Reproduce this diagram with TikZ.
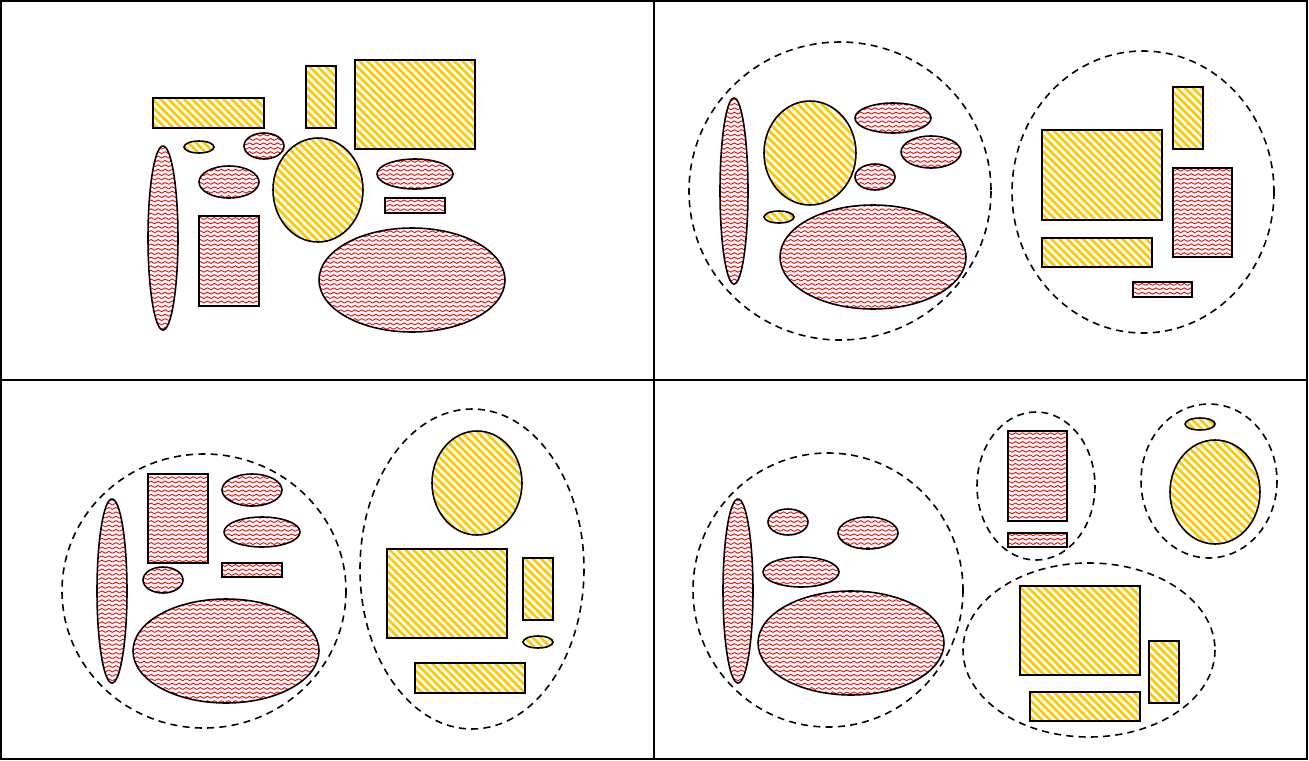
\documentclass[tikz,border=0pt]{standalone}
\usetikzlibrary{patterns}

\definecolor{stripe}{RGB}{255,200,0}

\pgfdeclarepatternformonly{zigzag}{\pgfqpoint{-1pt}{-1pt}}{\pgfqpoint{5pt}{3.5pt}}{\pgfqpoint{4pt}{2.5pt}}{
  \pgfsetlinewidth{0.5pt}
  \pgfpathmoveto{\pgfqpoint{0pt}{0.7pt}}
  \pgfpathlineto{\pgfqpoint{2pt}{1.8pt}}
  \pgfpathlineto{\pgfqpoint{4pt}{0.7pt}}
  \pgfusepath{stroke}}

\pgfdeclarepatternformonly{thick stripes}{\pgfqpoint{-1pt}{-1pt}}{\pgfqpoint{5.5pt}{5.5pt}}{\pgfqpoint{4.5pt}{4.5pt}}{
  \pgfsetlinewidth{1.5pt}
  \pgfpathmoveto{\pgfqpoint{-0.2pt}{4.7pt}}
  \pgfpathlineto{\pgfqpoint{4.7pt}{-0.2pt}}
  \pgfusepath{stroke}}

\begin{document}
\begin{tikzpicture}[x=0.02cm, y=-0.02cm, line width=0.9pt,
                    red blob/.style={draw, pattern=zigzag, pattern color=red},
                    yellow blob/.style={draw, pattern=thick stripes, pattern color=stripe},
                    group line/.style={draw, dash pattern=on 4pt off 3pt},
                    frame line/.style={draw, line width=1.2pt}]

  \useasboundingbox (0,0) rectangle (1309,761);

  % frame
  \draw[frame line] (1,1) rectangle (1307,759);
  \draw[frame line] (654,1) -- (654,759);
  \draw[frame line] (1,380) -- (1307,380);

  % top left
  \draw[yellow blob] (153,98) rectangle (264,128);
  \draw[yellow blob] (199,147) ellipse (15 and 6);
  \draw[red blob] (264,146) ellipse (20 and 13);
  \draw[red blob] (163,238) ellipse (15 and 92);
  \draw[red blob] (229,182) ellipse (30 and 16);
  \draw[red blob] (199,216) rectangle (259,306);
  \draw[yellow blob] (306,66) rectangle (336,128);
  \draw[yellow blob] (355,60) rectangle (475,149);
  \draw[yellow blob] (318,190) ellipse (45 and 52);
  \draw[red blob] (415,174) ellipse (38 and 15);
  \draw[red blob] (385,198) rectangle (445,213);
  \draw[red blob] (412,280) ellipse (93 and 52);

  % top right
  \draw[group line] (840,191) ellipse (151 and 149);
  \draw[red blob] (734,191) ellipse (14 and 93);
  \draw[yellow blob] (810,153) ellipse (46 and 52);
  \draw[red blob] (893,118) ellipse (38 and 15);
  \draw[red blob] (931,152) ellipse (30 and 16);
  \draw[red blob] (875,177) ellipse (20 and 13);
  \draw[yellow blob] (779,217) ellipse (15 and 6);
  \draw[red blob] (873,257) ellipse (93 and 52);

  \draw[group line] (1143,192) ellipse (131 and 141);
  \draw[yellow blob] (1173,87) rectangle (1203,149);
  \draw[yellow blob] (1042,130) rectangle (1162,220);
  \draw[red blob] (1173,168) rectangle (1232,257);
  \draw[yellow blob] (1042,238) rectangle (1152,267);
  \draw[red blob] (1133,282) rectangle (1192,297);

  % bottom left
  \draw[group line] (204,591) ellipse (142 and 137);
  \draw[red blob] (112,591) ellipse (15 and 92);
  \draw[red blob] (148,474) rectangle (208,563);
  \draw[red blob] (252,490) ellipse (30 and 16);
  \draw[red blob] (262,532) ellipse (38 and 15);
  \draw[red blob] (222,563) rectangle (282,577);
  \draw[red blob] (163,580) ellipse (20 and 13);
  \draw[red blob] (226,651) ellipse (93 and 52);

  \draw[group line] (472,569) ellipse (112 and 160);
  \draw[yellow blob] (477,483) ellipse (45 and 52);
  \draw[yellow blob] (387,549) rectangle (507,638);
  \draw[yellow blob] (523,558) rectangle (553,620);
  \draw[yellow blob] (538,642) ellipse (15 and 6);
  \draw[yellow blob] (415,663) rectangle (525,693);

  % bottom right
  \draw[group line] (828,590) ellipse (135 and 137);
  \draw[red blob] (738,591) ellipse (15 and 92);
  \draw[red blob] (788,522) ellipse (20 and 13);
  \draw[red blob] (868,533) ellipse (30 and 16);
  \draw[red blob] (801,572) ellipse (38 and 15);
  \draw[red blob] (851,643) ellipse (93 and 52);

  \draw[group line] (1036,486) ellipse (59 and 74);
  \draw[red blob] (1008,431) rectangle (1067,521);
  \draw[red blob] (1008,533) rectangle (1067,547);

  \draw[group line] (1209,481) ellipse (68 and 77);
  \draw[yellow blob] (1200,424) ellipse (15 and 6);
  \draw[yellow blob] (1215,492) ellipse (45 and 52);

  \draw[group line] (1089,650) ellipse (126 and 87);
  \draw[yellow blob] (1020,586) rectangle (1140,675);
  \draw[yellow blob] (1149,641) rectangle (1179,703);
  \draw[yellow blob] (1030,692) rectangle (1140,721);

\end{tikzpicture}
\end{document}
